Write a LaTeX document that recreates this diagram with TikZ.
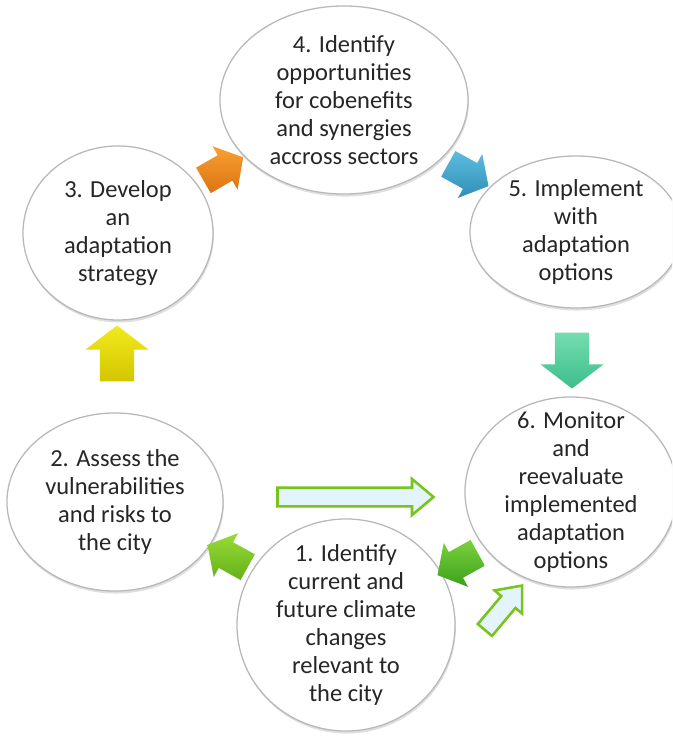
\documentclass[tikz,border=0pt]{standalone}
\usepackage{fontspec}
\setmainfont{Carlito}
\usetikzlibrary{shapes.geometric,shapes.arrows,shadows,positioning}

\definecolor{rimgray}{HTML}{B8B8B8}
\definecolor{inkgray}{HTML}{262626}
\definecolor{stepyellow}{HTML}{F2EA1C}
\definecolor{stepyellowdk}{HTML}{D2C600}
\definecolor{steporange}{HTML}{F8A033}
\definecolor{steporangedk}{HTML}{DC7411}
\definecolor{stepblue}{HTML}{5CBDE0}
\definecolor{stepbluedk}{HTML}{2F8EB6}
\definecolor{stepteal}{HTML}{74DDB0}
\definecolor{steptealdk}{HTML}{3DBE8A}
\definecolor{steplime}{HTML}{9ADB35}
\definecolor{steplimedk}{HTML}{62B11A}
\definecolor{stepgreen}{HTML}{7BD23A}
\definecolor{stepgreendk}{HTML}{3C9F1E}
\definecolor{outlinegreen}{HTML}{78C31C}
\definecolor{paleblue}{HTML}{E4F4FB}

\tikzstyle{bubble} = [ellipse, draw=rimgray, line width=0.9pt, fill=white, inner sep=0pt,
  drop shadow={shadow xshift=0.6pt, shadow yshift=-1.8pt, opacity=0.25}]
\tikzstyle{bubbletext} = [align=center, text=inkgray, inner sep=0pt,
  font=\fontsize{17.4}{20}\selectfont]
\tikzstyle{bigflow} = [single arrow, inner xsep=0pt, inner ysep=0.42cm, minimum height=1.4cm,
  single arrow head extend=0.36cm, single arrow tip angle=105]
\tikzstyle{smallflow} = [single arrow, inner xsep=0pt, inner ysep=0.36cm, minimum height=1.15cm,
  single arrow head extend=0.26cm, single arrow tip angle=100]
\tikzstyle{hollowflow} = [single arrow, draw=outlinegreen, fill=paleblue, line width=1.8pt,
  inner xsep=0pt, inner ysep=0.2cm, single arrow head extend=0.22cm, single arrow tip angle=80]

\begin{document}
\begin{tikzpicture}[x=0.025cm, y=-0.025cm]
\clip (0,0) rectangle (672,740);

\node (e1) [bubble, minimum width=5.45cm, minimum height=5.3cm] at (346,625) {};
\node (e2) [bubble, minimum width=5.4cm, minimum height=4.45cm] at (115,502) {};
\node (e3) [bubble, minimum width=4.75cm, minimum height=4.35cm] at (118,233) {};
\node (e4) [bubble, minimum width=6.2cm, minimum height=4.7cm] at (344,100) {};
\node (e5) [bubble, minimum width=5.3cm, minimum height=3.8cm] at (576,232) {};
\node (e6) [bubble, minimum width=5.3cm, minimum height=4.75cm] at (571,492) {};

\node (t1) [bubbletext] at (e1) {1. Identify\\current and\\future climate\\changes\\relevant to\\the city};
\node (t2) [bubbletext] at (e2) {2. Assess the\\vulnerabilities\\and risks to\\the city};
\node (t3) [bubbletext] at (e3) {3. Develop\\an\\adaptation\\strategy};
\node (t4) [bubbletext] at (e4) {4. Identify\\opportunities\\for cobenefits\\and synergies\\accross sectors};
\node (t5) [bubbletext] at (e5) {5. Implement\\with\\adaptation\\options};
\node (t6) [bubbletext] at (e6) {6. Monitor\\and\\reevaluate\\implemented\\adaptation\\options};

\node (a12) [smallflow, rotate=151, top color=steplime, bottom color=steplimedk] at (233,559) {};
\node (a23) [bigflow, rotate=90, top color=stepyellow, bottom color=stepyellowdk] at (117,360) {};
\node (a34) [smallflow, rotate=30, top color=steporange, bottom color=steporangedk] at (218,172) {};
\node (a45) [smallflow, rotate=-29, top color=stepblue, bottom color=stepbluedk] at (463,172) {};
\node (a56) [bigflow, rotate=-90, top color=stepteal, bottom color=steptealdk] at (572,354) {};
\node (a61) [smallflow, rotate=209, top color=stepgreen, bottom color=stepgreendk] at (463,561) {};

\node (a26) [hollowflow, minimum height=3.9cm] at (350,497) {};
\node (a16) [hollowflow, rotate=50, minimum height=1.45cm] at (500,612) {};
\end{tikzpicture}
\end{document}
